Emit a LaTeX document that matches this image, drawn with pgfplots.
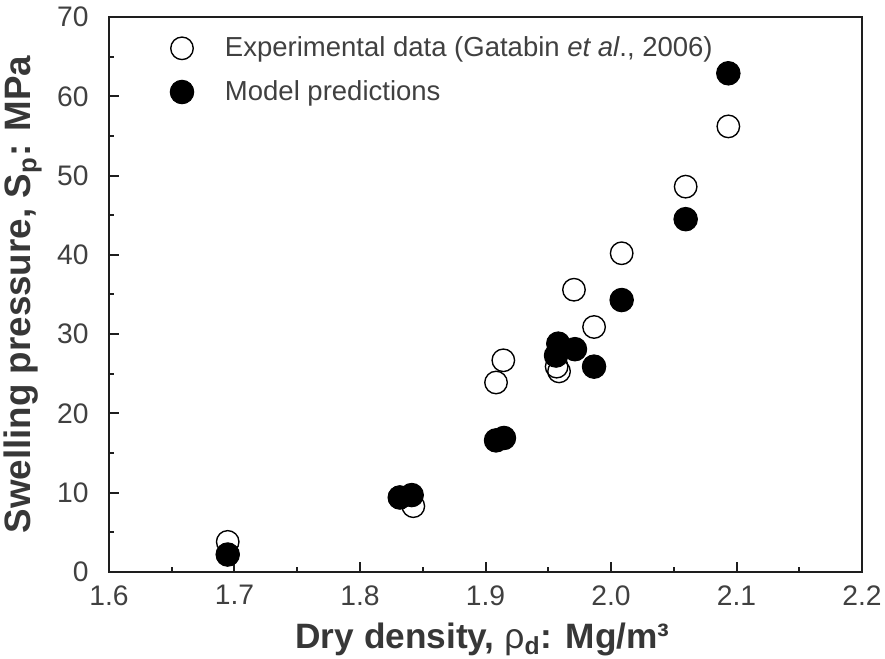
\documentclass[border=0pt]{standalone}
\usepackage{pgfplots}
\pgfplotsset{compat=1.18}
\usepackage{fontspec}
\setmainfont{Liberation Sans}
\definecolor{ticktext}{RGB}{64,64,64}
\definecolor{labtext}{RGB}{55,55,55}
\definecolor{axcol}{RGB}{30,30,30}
\begin{document}
\begin{tikzpicture}
\begin{axis}[
  scale only axis,
  width=301.2pt, height=222pt,
  xmin=1.6, xmax=2.2, ymin=0, ymax=70,
  xtick={1.6,1.7,1.8,1.9,2.0,2.1,2.2},
  ytick={0,10,20,30,40,50,60,70},
  minor x tick num=1, minor y tick num=1,
  tick pos=left,
  tick align=inside,
  major tick length=4pt, minor tick length=2pt,
  axis line style={axcol, line width=0.8pt},
  every tick/.style={axcol, line width=0.8pt},
  /pgf/number format/assume math mode=true,
  xticklabel style={/pgf/number format/fixed, /pgf/number format/fixed zerofill, /pgf/number format/precision=1, font=\fontsize{11.3}{13}\selectfont, text=ticktext, yshift=-1.8pt},
  yticklabel style={font=\fontsize{11.3}{13}\selectfont, text=ticktext, xshift=-4.6pt},
  xlabel={Dry density, {\mdseries ρ}\textsubscript{\bfseries d}: Mg/m³},
  ylabel={Swelling pressure, S\textsubscript{p}: MPa},
  xlabel style={font=\fontsize{14.1}{16}\selectfont\bfseries, text=labtext, at={(axis description cs:0.496,0)}, anchor=center, yshift=-27pt},
  ylabel style={font=\fontsize{14.7}{16}\selectfont\bfseries, text=labtext, at={(axis description cs:-0.1142,0.5)}, anchor=center},
  legend style={draw=none, fill=none, at={(rel axis cs:0,1)}, anchor=north west, xshift=13.8pt, yshift=-5.6pt, font=\fontsize{11}{13}\selectfont, text=ticktext, row sep=4pt, inner xsep=0pt, inner ysep=0pt},
  legend cell align=left,
  legend image code/.code={\path (0pt,0pt) (30pt,0pt); \draw[#1] plot coordinates {(15pt,0pt)};},
]
\coordinate (SW) at (rel axis cs:0,0);
\coordinate (NE) at (rel axis cs:1,1);
\addplot[only marks, mark=o, mark size=4.5pt, mark options={line width=0.55pt, draw=black, fill=white}]
coordinates {
(1.6946,3.8) (1.8317,9.4) (1.8425,8.3) (1.9084,23.9) (1.9142,26.7) (1.9567,25.9) (1.9586,25.3)
(1.9705,35.6) (1.9865,30.9) (2.0085,40.2) (2.0595,48.6) (2.0935,56.2)
};
\addlegendentry{Experimental data (Gatabin \textit{et al}., 2006)}
\addplot[only marks, mark=*, mark size=4.7pt, mark options={draw=black, fill=black}]
coordinates {
(1.6946,2.2) (1.8317,9.4) (1.8412,9.7) (1.9084,16.6) (1.9147,16.9) (1.9562,27.3) (1.9580,28.8)
(1.9713,28.1) (1.9865,25.9) (2.0085,34.3) (2.0595,44.5) (2.0935,62.9)
};
\addlegendentry{Model predictions}
\end{axis}
\pgfresetboundingbox
\path ([shift={(-43.6pt,-34.8pt)}]SW) rectangle ([shift={(9.2pt,6.8pt)}]NE);
\end{tikzpicture}
\end{document}
